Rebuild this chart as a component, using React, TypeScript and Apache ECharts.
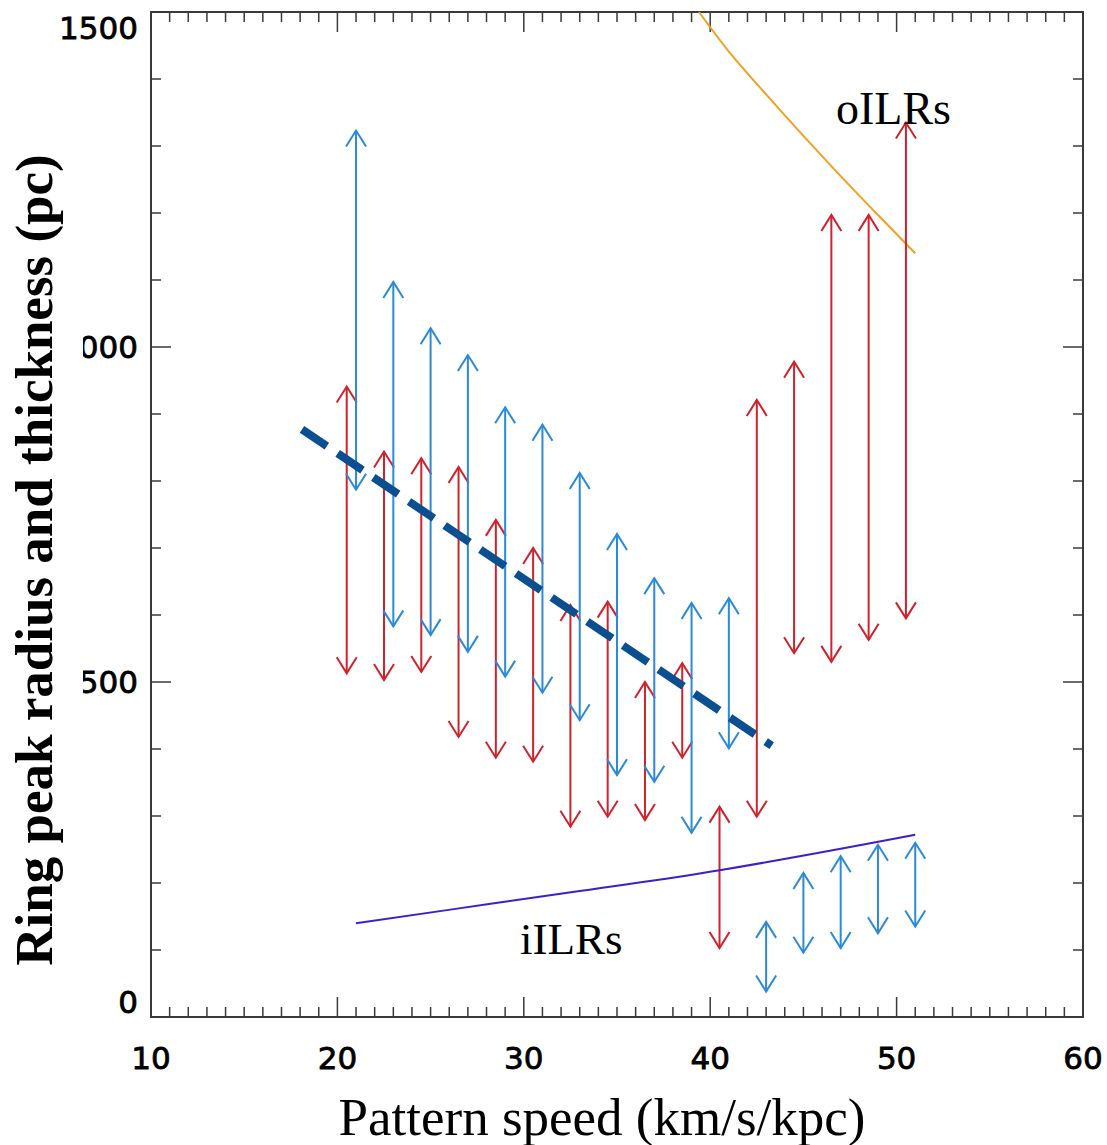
import React, { useEffect, useRef } from "react";
import * as echarts from "echarts";

// Axis ticks
const xTicks = [10, 20, 30, 40, 50, 60];
const yTicks = [0, 500, 1000, 1500];
const xMinorStep = 1;
const yMinorStep = 100;

// Red arrows: pattern speed, low end, high end (pc)
const redX = [20.5, 22.5, 24.5, 26.5, 28.5, 30.5, 32.5, 34.5, 36.5, 38.5, 40.5, 42.5, 44.5, 46.5, 48.5, 50.5];
const redLow = [513, 503, 515, 418, 387, 381, 284, 299, 294, 387, 103, 299, 543, 530, 563, 595];
const redHigh = [941, 844, 834, 821, 742, 700, 615, 620, 500, 528, 314, 921, 978, 1197, 1197, 1335];

// Blue arrows
const blueX = [21, 23, 25, 27, 29, 31, 33, 35, 37, 39, 41, 43, 45, 47, 49, 51];
const blueLow = [787, 583, 570, 545, 508, 484, 443, 361, 351, 275, 401, 38, 96, 103, 125, 135];
const blueHigh = [1323, 1097, 1028, 988, 910, 884, 812, 721, 655, 618, 625, 142, 215, 240, 257, 260];

// oILR curve
const oilrX = [39.4, 41, 43, 45, 47, 49, 51];
const oilrY = [1500, 1441, 1377, 1315, 1255, 1197, 1140];

// iILR curve
const iilrX = [21, 28.5, 33, 40.5, 51];
const iilrY = [140, 170, 188, 219, 272];

// Dashed trend line
const trendX = [18.1, 43.3];
const trendY = [877, 405];

const RED = "#d0222c";
const BLUE = "#2b8ad6";
const FRAME = "#3a3a3a";

function arrowItem(color: string) {
  return (params: any, api: any) => {
    const x = api.value(0);
    const p1 = api.coord([x, api.value(1)]);
    const p2 = api.coord([x, api.value(2)]);
    const hw = 10;
    const hh = 16;
    const st = { stroke: color, lineWidth: 2, fill: "none" };
    return {
      type: "group",
      children: [
        { type: "line", shape: { x1: p1[0], y1: p1[1], x2: p2[0], y2: p2[1] }, style: st },
        {
          type: "polyline",
          shape: { points: [[p2[0] - hw, p2[1] + hh], [p2[0], p2[1]], [p2[0] + hw, p2[1] + hh]] },
          style: st,
        },
        {
          type: "polyline",
          shape: { points: [[p1[0] - hw, p1[1] - hh], [p1[0], p1[1]], [p1[0] + hw, p1[1] - hh]] },
          style: st,
        },
      ],
    };
  };
}

// Build frame tick list: [value, side (0 bottom,1 top,2 left,3 right), isMajor]
function buildTicks() {
  const out: number[][] = [];
  const x0 = xTicks[0];
  const x1 = xTicks[xTicks.length - 1];
  const y0 = yTicks[0];
  const y1 = yTicks[yTicks.length - 1];
  for (let v = x0; v <= x1 + 1e-9; v += xMinorStep) {
    const major = xTicks.indexOf(v) >= 0 ? 1 : 0;
    out.push([v, 0, major], [v, 1, major]);
  }
  for (let v = y0; v <= y1 + 1e-9; v += yMinorStep) {
    const major = yTicks.indexOf(v) >= 0 ? 1 : 0;
    out.push([v, 2, major], [v, 3, major]);
  }
  return out;
}

export default function App() {
  const ref = useRef<HTMLDivElement>(null);
  useEffect(() => {
    if (!ref.current) return;
    const chart = echarts.init(ref.current, null, { renderer: "svg" });
    const xMin = xTicks[0];
    const xMax = xTicks[xTicks.length - 1];
    const yMin = yTicks[0];
    const yMax = yTicks[yTicks.length - 1];
    const axisLine = { show: true, onZero: false, lineStyle: { color: FRAME, width: 2 } };
    const labelFont = {
      fontFamily: "DejaVu Sans",
      fontSize: 31,
      color: "#000",
      textBorderColor: "#000",
      textBorderWidth: 0.8,
    };
    const tickItem = (params: any, api: any) => {
      const v = api.value(0);
      const side = api.value(1);
      const len = api.value(2) ? 20 : 10;
      let x1, y1, x2, y2;
      if (side === 0) {
        const p = api.coord([v, yMin]);
        x1 = p[0]; y1 = p[1]; x2 = p[0]; y2 = p[1] - len;
      } else if (side === 1) {
        const p = api.coord([v, yMax]);
        x1 = p[0]; y1 = p[1]; x2 = p[0]; y2 = p[1] + len;
      } else if (side === 2) {
        const p = api.coord([xMin, v]);
        x1 = p[0]; y1 = p[1]; x2 = p[0] + len; y2 = p[1];
      } else {
        const p = api.coord([xMax, v]);
        x1 = p[0]; y1 = p[1]; x2 = p[0] - len; y2 = p[1];
      }
      return {
        type: "line",
        shape: { x1, y1, x2, y2 },
        style: { stroke: FRAME, lineWidth: 1.5 },
      };
    };
    chart.setOption({
      animation: false,
      grid: { left: 151, right: 24, top: 12, bottom: 128 },
      xAxis: [
        {
          type: "value",
          position: "bottom",
          min: xMin,
          max: xMax,
          interval: 10,
          axisLine,
          axisTick: { show: false },
          splitLine: { show: false },
          axisLabel: { ...labelFont, margin: 25, formatter: (v: number) => String(v) },
        },
        {
          type: "value",
          position: "top",
          min: xMin,
          max: xMax,
          interval: 10,
          axisLine,
          axisTick: { show: false },
          splitLine: { show: false },
          axisLabel: { show: false },
        },
      ],
      yAxis: [
        {
          type: "value",
          position: "left",
          min: yMin,
          max: yMax,
          interval: 500,
          axisLine,
          axisTick: { show: false },
          splitLine: { show: false },
          axisLabel: {
            ...labelFont,
            margin: 13,
            verticalAlignMinLabel: "bottom",
            verticalAlignMaxLabel: "top",
            formatter: (v: number) => String(v),
          },
        },
        {
          type: "value",
          position: "right",
          min: yMin,
          max: yMax,
          interval: 500,
          axisLine,
          axisTick: { show: false },
          splitLine: { show: false },
          axisLabel: { show: false },
        },
      ],
      series: [
        {
          type: "custom",
          renderItem: tickItem,
          data: buildTicks(),
          clip: false,
          silent: true,
          z: 1,
        },
        {
          type: "line",
          data: oilrX.map((x, i) => [x, oilrY[i]]),
          showSymbol: false,
          symbol: "none",
          smooth: 0.3,
          lineStyle: { color: "#f0a024", width: 2 },
          z: 2,
        },
        {
          type: "custom",
          renderItem: arrowItem(RED),
          data: redX.map((x, i) => [x, redLow[i], redHigh[i]]),
          z: 3,
        },
        {
          type: "custom",
          renderItem: arrowItem(BLUE),
          data: blueX.map((x, i) => [x, blueLow[i], blueHigh[i]]),
          z: 3,
        },
        {
          type: "line",
          data: iilrX.map((x, i) => [x, iilrY[i]]),
          showSymbol: false,
          symbol: "none",
          smooth: 0.4,
          lineStyle: { color: "#3d1fcc", width: 2 },
          z: 4,
        },
        {
          type: "line",
          data: trendX.map((x, i) => [x, trendY[i]]),
          showSymbol: false,
          symbol: "none",
          lineStyle: { color: "#0b4f91", width: 8, type: [30, 13] },
          z: 5,
        },
      ],
      graphic: [
        {
          type: "rect",
          z: 50,
          shape: { x: 0, y: 150, width: 83, height: 820 },
          style: { fill: "#fff" },
        },
        {
          type: "text",
          x: 836,
          y: 108,
          z: 100,
          style: {
            text: "oILRs",
            font: '46px "Liberation Serif"',
            fill: "#000",
            align: "left",
            verticalAlign: "middle",
          },
        },
        {
          type: "text",
          x: 520,
          y: 939,
          z: 100,
          style: {
            text: "iILRs",
            font: '45px "Liberation Serif"',
            fill: "#000",
            align: "left",
            verticalAlign: "middle",
          },
        },
        {
          type: "text",
          x: 602,
          y: 1117,
          z: 100,
          style: {
            text: "Pattern speed (km/s/kpc)",
            font: '53px "Liberation Serif"',
            fill: "#000",
            align: "center",
            verticalAlign: "middle",
          },
        },
        {
          type: "text",
          x: 34,
          y: 560,
          rotation: Math.PI / 2,
          z: 100,
          style: {
            text: "Ring peak radius and thickness (pc)",
            font: 'bold 53px "Liberation Serif"',
            fill: "#000",
            align: "center",
            verticalAlign: "middle",
          },
        },
      ],
    });
    return () => chart.dispose();
  }, []);
  return (
    <div
      ref={ref}
      style={{ position: "fixed", left: 0, top: 0, width: 1107, height: 1145, background: "#fff" }}
    />
  );
}
